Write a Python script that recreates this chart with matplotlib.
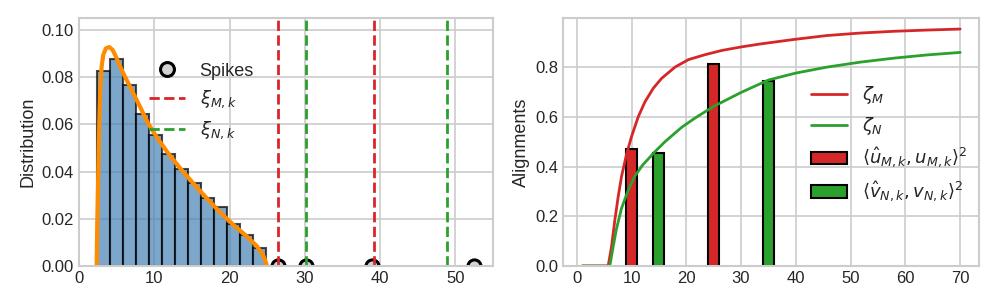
import numpy as np
import matplotlib
matplotlib.use("Agg")
import matplotlib.pyplot as plt
from matplotlib.lines import Line2D
from matplotlib.patches import Patch

plt.style.use("seaborn-v0_8-whitegrid")
plt.rcParams["font.family"] = ["Liberation Sans", "DejaVu Sans"]
plt.rcParams["axes.linewidth"] = 1.5
plt.rcParams["grid.linewidth"] = 1.2

# left panel: histogram of eigenvalues (density)
hist_lo, hist_hi = 2.46, 24.9
hist_heights = [0.0827, 0.0877, 0.0767, 0.0644, 0.0556, 0.0475, 0.0410,
                0.0351, 0.0286, 0.0249, 0.0177, 0.0133, 0.0075]

# limiting density curve
dens_x = [2.35, 2.43, 2.52, 2.61, 2.70, 2.83, 3.01, 3.23, 3.59, 4.03, 4.47,
          5.0, 5.67, 6.33, 7.22, 8.10, 9.21, 10.53, 11.86, 13.41, 15.18,
          16.96, 18.73, 20.49, 22.27, 23.6, 24.48, 25.0]
dens_y = [0.0, 0.0180, 0.0321, 0.0463, 0.0604, 0.0745, 0.0844, 0.0894,
          0.0922, 0.0927, 0.0915, 0.0880, 0.0830, 0.0788, 0.0731, 0.0675,
          0.0602, 0.0536, 0.0477, 0.0415, 0.0350, 0.0287, 0.0228, 0.0175,
          0.0126, 0.0085, 0.0045, 0.0]

spikes = [26.38, 30.1, 38.87, 52.46]
xi_M = [26.38, 39.22]
xi_N = [30.15, 48.9]

# right panel: alignments
zetaM_x = [1.0, 5.74, 6.35, 6.96, 7.57, 8.18, 9.1, 10.0, 11.23, 12.45,
           13.98, 15.51, 17.95, 20.39, 23.44, 26.5, 30.0, 33.5, 39.6, 45.7,
           51.8, 57.9, 64.0, 70.0]
zeta_M = [0.0, 0.0, 0.077, 0.185, 0.279, 0.360, 0.450, 0.520, 0.600, 0.660,
          0.715, 0.755, 0.800, 0.830, 0.850, 0.867, 0.881, 0.893, 0.911,
          0.927, 0.937, 0.944, 0.949, 0.953]
zetaN_x = [1.0, 6.04, 6.65, 7.26, 8.18, 9.4, 10.62, 12.0, 14.2, 16.12,
           19.17, 21.6, 25.0, 30.0, 35.0, 40.0, 45.7, 51.8, 57.9, 64.0, 70.0]
zeta_N = [0.0, 0.0, 0.077, 0.150, 0.232, 0.305, 0.362, 0.405, 0.458, 0.500,
          0.558, 0.595, 0.642, 0.698, 0.748, 0.776, 0.800, 0.820, 0.836,
          0.849, 0.859]

u_pos = [10, 25]
u_align = [0.471, 0.812]
v_pos = [15, 35]
v_align = [0.455, 0.746]

fig = plt.figure(figsize=(9.97, 3.07), dpi=100)
ax1 = fig.add_axes([0.0792, 0.1336, 0.4153, 0.8078])
ax2 = fig.add_axes([0.565, 0.1336, 0.417, 0.8078])

# ---- left
edges = np.linspace(hist_lo, hist_hi, len(hist_heights) + 1)
ax1.bar(edges[:-1], hist_heights, width=np.diff(edges), align="edge",
        color="steelblue", edgecolor="black", linewidth=1.5, alpha=0.7)
ax1.plot(dens_x, dens_y, color="darkorange", lw=3, solid_capstyle="round")
ax1.scatter(spikes, [0] * len(spikes), s=90, facecolor="lightgray",
            edgecolor="black", linewidths=2.2, zorder=1)
for x in xi_M:
    ax1.axvline(x, color="tab:red", ls="--", lw=2)
for x in xi_N:
    ax1.axvline(x, color="tab:green", ls="--", lw=2)
ax1.set_xlim(0, 55)
ax1.set_ylim(0, 0.105)
ax1.set_xticks([0, 10, 20, 30, 40, 50])
ax1.set_yticks([0, 0.02, 0.04, 0.06, 0.08, 0.10])
ax1.set_ylabel("Distribution", fontsize=13)
ax1.tick_params(labelsize=12)

h1 = [Line2D([], [], ls="none", marker="o", ms=10, mfc="lightgray",
             mec="black", mew=2.2),
      Line2D([], [], color="tab:red", ls="--", lw=2),
      Line2D([], [], color="tab:green", ls="--", lw=2)]
ax1.legend(h1, ["Spikes", r"$\xi_{M,k}$", r"$\xi_{N,k}$"], fontsize=13,
           loc="upper left", bbox_to_anchor=(0.13, 0.885))

# ---- right
ax2.plot(zetaM_x, zeta_M, color="tab:red", lw=2)
ax2.plot(zetaN_x, zeta_N, color="tab:green", lw=2)
ax2.bar(u_pos, u_align, width=2, color="tab:red", edgecolor="black", lw=1.5)
ax2.bar(v_pos, v_align, width=2, color="tab:green", edgecolor="black", lw=1.5)
ax2.set_xlim(-2.45, 73.45)
ax2.set_ylim(0, 0.9975)
ax2.set_xticks(range(0, 71, 10))
ax2.set_yticks([0, 0.2, 0.4, 0.6, 0.8])
ax2.set_ylabel("Alignments", fontsize=13)
ax2.tick_params(labelsize=12)

h2 = [Line2D([], [], color="tab:red", lw=2),
      Line2D([], [], color="tab:green", lw=2),
      Patch(facecolor="tab:red", edgecolor="black", lw=1.5),
      Patch(facecolor="tab:green", edgecolor="black", lw=1.5)]
ax2.legend(h2, [r"$\zeta_M$", r"$\zeta_N$",
                r"$\langle \hat{u}_{M,k}, u_{M,k}\rangle^2$",
                r"$\langle \hat{v}_{N,k}, v_{N,k}\rangle^2$"], fontsize=13,
           loc="upper left", bbox_to_anchor=(0.557, 0.80))

fig.savefig("out.png", dpi=100)
